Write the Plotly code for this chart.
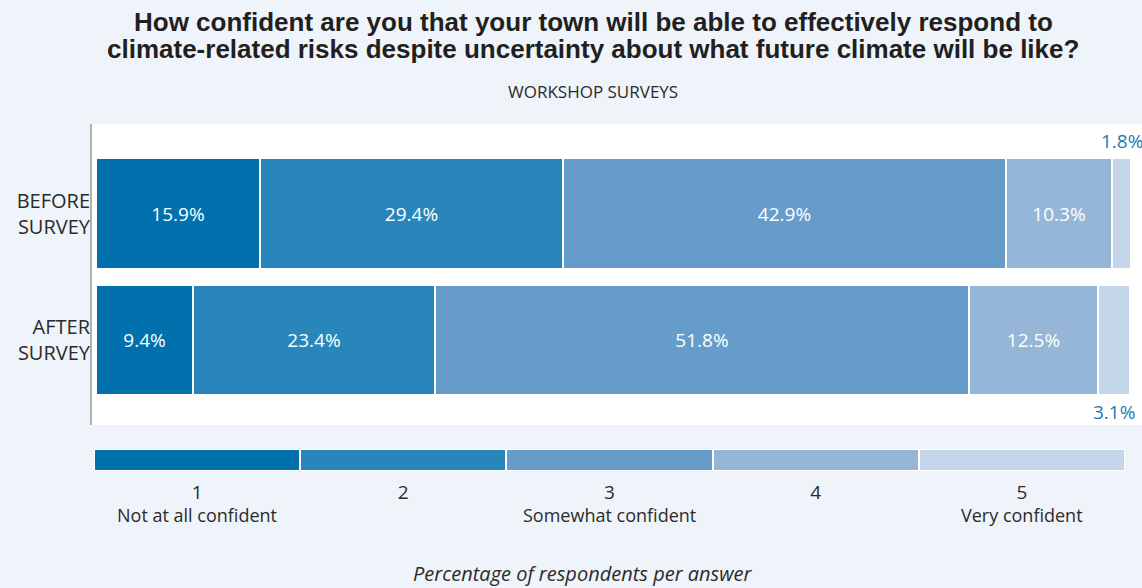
import plotly.graph_objects as go

# Survey answers, 1 (not at all confident) .. 5 (very confident)
answers = ["1", "2", "3", "4", "5"]
answer_labels = ["Not at all confident", "", "Somewhat confident", "", "Very confident"]
groups = ["BEFORE<br>SURVEY", "AFTER<br>SURVEY"]
before_pct = [15.9, 29.4, 42.9, 10.3, 1.8]
after_pct = [9.4, 23.4, 51.8, 12.5, 3.1]
colors = ["#0071ad", "#2886bb", "#669cc9", "#96b6d8", "#c5d6eb"]

W, H = 1142, 588
BG = "#eef4f9"
TXT = "#2b2b2b"
FONT = "Open Sans"


def px_x(p):
    return p / W


def px_y(p):
    return 1 - p / H


fig = go.Figure()

# stacked horizontal bars, one trace per answer level
for i, ans in enumerate(answers):
    vals = [before_pct[i], after_pct[i]]
    inside = [f"{v}%" if v >= 5 else "" for v in vals]
    fig.add_trace(go.Bar(
        y=groups, x=vals, orientation="h", width=0.877,
        marker=dict(color=colors[i], line=dict(color="white", width=2)),
        text=inside, textposition="inside", insidetextanchor="middle",
        textfont=dict(color="white", size=19, family=FONT),
        hoverinfo="skip", showlegend=False, name=ans,
        xaxis="x", yaxis="y",
    ))

# small end segments labelled outside the bars
small_idx = len(answers) - 1
before_end = sum(before_pct) - before_pct[small_idx] / 2
after_end = sum(after_pct) - after_pct[small_idx] / 2
fig.add_annotation(x=before_end, y=groups[0], text=f"{before_pct[small_idx]}%",
                   showarrow=False, xref="x", yref="y", xanchor="center",
                   yshift=73, font=dict(color="#1a7ab5", size=19, family=FONT))
fig.add_annotation(x=after_end, y=groups[1], text=f"{after_pct[small_idx]}%",
                   showarrow=False, xref="x", yref="y", xanchor="center",
                   yshift=-72, font=dict(color="#1a7ab5", size=19, family=FONT))

# colour key strip below the chart
key_pos = list(range(len(answers)))
fig.add_trace(go.Bar(
    x=key_pos, y=[1] * len(answers), width=1,
    marker=dict(color=colors, line=dict(color="white", width=2)),
    hoverinfo="skip", showlegend=False, xaxis="x2", yaxis="y2",
))
for pos, lab in zip(key_pos, answer_labels):
    if lab:
        fig.add_annotation(x=pos, y=0, xref="x2", yref="y2", yanchor="top",
                           text=lab, showarrow=False, yshift=-30,
                           font=dict(color=TXT, size=18, family=FONT))

fig.update_layout(
    width=W, height=H,
    margin=dict(l=0, r=0, t=0, b=0),
    paper_bgcolor=BG, plot_bgcolor="white",
    barmode="stack", bargap=0,
    font=dict(family=FONT, color=TXT),
    xaxis=dict(domain=[px_x(92), 1], range=[-0.39, 101.36], visible=False,
               fixedrange=True),
    yaxis=dict(domain=[px_y(425), px_y(124)], range=[1.672, -0.7075],
               categoryorder="array", categoryarray=groups,
               showgrid=False, zeroline=False, showline=True,
               linecolor="#b0b0b0", linewidth=2, ticks="",
               tickfont=dict(size=20, color=TXT, family=FONT),
               ticklabelstandoff=-4, fixedrange=True),
    xaxis2=dict(domain=[px_x(94), px_x(1125)], range=[-0.5, 4.5],
                tickmode="array", tickvals=key_pos, ticktext=answers,
                showgrid=False, zeroline=False, showline=False, ticks="",
                tickfont=dict(size=19, color=TXT, family=FONT),
                ticklabelstandoff=8, anchor="y2", fixedrange=True),
    yaxis2=dict(domain=[px_y(471), px_y(449)], range=[0, 1], visible=False,
                anchor="x2", fixedrange=True),
    showlegend=False,
)

# two-line bold heading
title_lines = [
    "How confident are you that your town will be able to effectively respond to",
    "climate-related risks despite uncertainty about what future climate will be like?",
]
for line, yc in zip(title_lines, [22, 49]):
    fig.add_annotation(
        text=f"<b>{line}</b>", x=px_x(593), y=px_y(yc), xref="paper", yref="paper",
        showarrow=False, yanchor="middle",
        font=dict(size=26, color="#231f20", family="Liberation Sans"),
    )
fig.add_annotation(
    text="WORKSHOP SURVEYS", x=px_x(593), y=px_y(91), xref="paper", yref="paper",
    showarrow=False, yanchor="middle", font=dict(size=17, color=TXT, family=FONT),
)
fig.add_annotation(
    text="<i>Percentage of respondents per answer</i>", x=px_x(582), y=px_y(573),
    xref="paper", yref="paper", showarrow=False, yanchor="middle",
    font=dict(size=20, color=TXT, family=FONT),
)

fig.write_html("out.html")
